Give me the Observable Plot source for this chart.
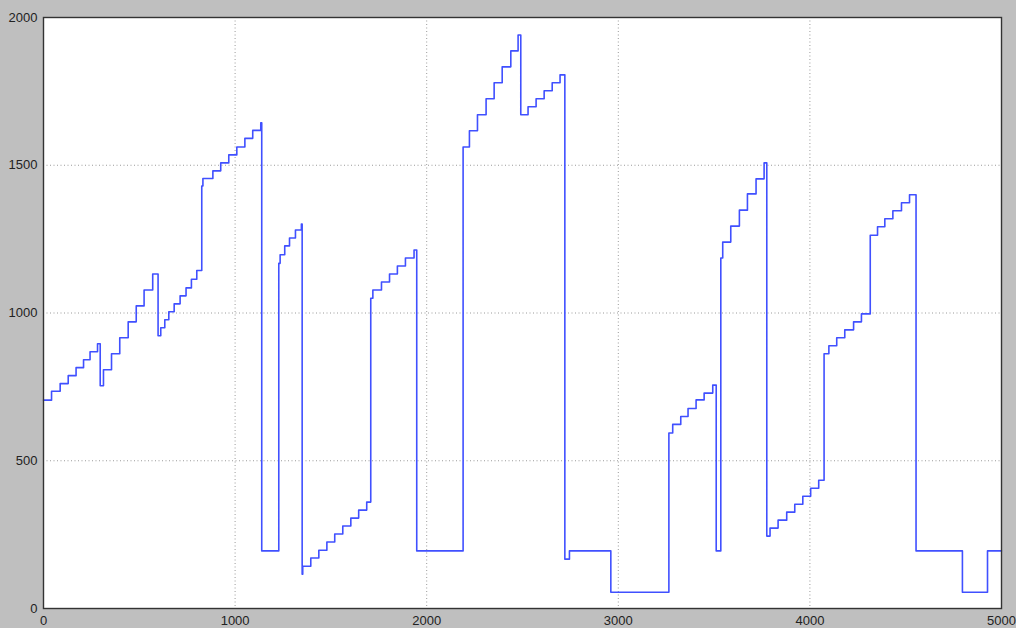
<!DOCTYPE html>
<html>
<head>
<meta charset="utf-8">
<script src="https://cdn.jsdelivr.net/npm/d3@7"></script>
<script src="https://cdn.jsdelivr.net/npm/@observablehq/plot@0.6"></script>
<style>
  html, body { margin: 0; padding: 0; background: #bfbfbf; }
  #chart svg { display: block; }
</style>
</head>
<body>
<div id="chart"></div>
<script>
// Breakpoints of the step series (value holds from x until next x)
const stepX = [0, 42, 87, 129, 170, 209, 243, 282, 296, 313, 355, 398, 442, 484, 525, 570,
  598, 612, 633, 654, 682, 713, 744, 772, 800, 826, 832, 884, 925, 967, 1009, 1051, 1092, 1134,
  1139, 1228, 1235, 1259, 1284, 1315, 1346, 1350, 1353, 1395, 1437, 1479, 1520, 1562, 1604, 1645, 1687,
  1708, 1719, 1764, 1806, 1847, 1889, 1934, 1948,
  2190, 2223, 2265, 2310, 2352, 2394, 2439, 2477, 2491, 2529, 2571, 2613, 2655, 2696, 2721, 2745,
  2961, 3264, 3284, 3326, 3364, 3406, 3448, 3493, 3511,
  3535, 3545, 3587, 3632, 3674, 3719, 3761, 3775, 3792, 3834, 3879, 3921, 3963, 4004, 4046,
  4074, 4099, 4140, 4182, 4228, 4269, 4315, 4353, 4391, 4433, 4478, 4520, 4554, 4796, 4927, 5000];
const stepY = [705, 735, 761, 788, 815, 842, 869, 896, 754, 808, 862, 916, 970, 1024, 1078, 1132,
  923, 950, 977, 1004, 1031, 1058, 1085, 1114, 1144, 1430, 1455, 1481, 1508, 1535, 1562, 1591, 1618, 1644,
  195, 1168, 1197, 1227, 1254, 1281, 1301, 116, 143, 171, 197, 225, 252, 279, 306, 333, 360,
  1050, 1078, 1105, 1132, 1159, 1186, 1213, 195,
  1562, 1617, 1671, 1725, 1779, 1833, 1887, 1941, 1671, 1698, 1725, 1752, 1779, 1806, 167, 195,
  55, 594, 623, 650, 677, 706, 729, 756, 195,
  1186, 1240, 1294, 1348, 1403, 1454, 1508, 245, 272, 299, 326, 353, 380, 407, 434,
  862, 889, 916, 943, 970, 997, 1263, 1292, 1319, 1346, 1373, 1400, 195, 55, 195, 195];

const xTicks = [0, 1000, 2000, 3000, 4000, 5000];
const yTicks = [0, 500, 1000, 1500, 2000];

const data = stepX.map((x, i) => ({x, y: stepY[i]}));

const chart = Plot.plot({
  width: 1016,
  height: 628,
  marginLeft: 43,
  marginRight: 15,
  marginTop: 17,
  marginBottom: 20,
  style: {background: "#bfbfbf", fontFamily: "'Liberation Sans', Arial, sans-serif", fontSize: "13px", color: "#222"},
  x: {domain: [0, 5000]},
  y: {domain: [0, 2000]},
  marks: [
    Plot.frame({fill: "white", stroke: null}),
    Plot.gridX(xTicks.slice(1, -1), {stroke: "#9a9a9a", strokeOpacity: 1, strokeDasharray: "1,2.5"}),
    Plot.gridY(yTicks.slice(1, -1), {stroke: "#9a9a9a", strokeOpacity: 1, strokeDasharray: "1,2.5"}),
    Plot.line(data, {x: "x", y: "y", curve: "step-after", stroke: "#4050ff", strokeWidth: 1.6}),
    Plot.frame({stroke: "#333", strokeWidth: 1.4}),
    Plot.axisX(xTicks, {tickSize: 0, tickPadding: 7, label: null, tickFormat: d => String(d), fill: "#222"}),
    Plot.axisY(yTicks, {tickSize: 0, tickPadding: 6, label: null, tickFormat: d => String(d), fill: "#222"})
  ]
});
document.getElementById("chart").appendChild(chart);
</script>
</body>
</html>
